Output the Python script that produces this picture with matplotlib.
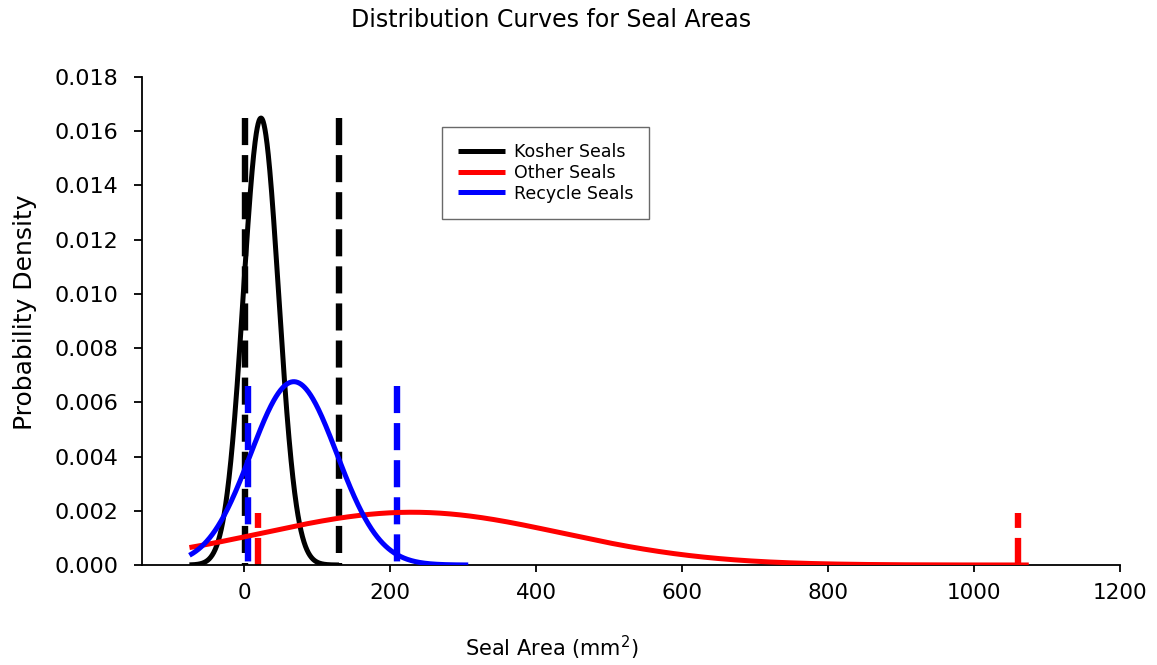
import numpy as np
import matplotlib
matplotlib.use("Agg")
import matplotlib.pyplot as plt
from matplotlib.ticker import FormatStrFormatter

# ---- data ----
series_names = ["Kosher Seals", "Other Seals", "Recycle Seals"]
series_colors = ["#000000", "#ff0000", "#0000ff"]
curve_means = [23.0, 230.0, 68.0]          # mm^2
curve_sds = [24.2, 205.0, 59.0]            # mm^2
curve_start = [-75.0, -75.0, -75.0]
curve_end = [130.0, 1075.0, 307.0]
range_low = [1.5, 19.0, 5.5]               # dashed markers (min)
range_high = [130.0, 1060.0, 209.6]        # dashed markers (max)
marker_heights = [0.0165, 0.0019, 0.0066]

x_ticks = [0, 200, 400, 600, 800, 1000, 1200]
y_ticks = [0.000, 0.002, 0.004, 0.006, 0.008, 0.010, 0.012, 0.014, 0.016, 0.018]

# style: whether the dash pattern starts at the top of the marker line
dash_from_top = [True, False, True]

plt.rcParams["font.family"] = ["DejaVu Sans"]
plt.rcParams["lines.scale_dashes"] = False

fig = plt.figure(figsize=(11.57, 6.65), dpi=100)
ax = fig.add_axes([142 / 1157, 1 - 565 / 665, (1120 - 142) / 1157, (565 - 77) / 665])

handles = []
for name, col, mu, sd, a, b in zip(series_names, series_colors, curve_means,
                                   curve_sds, curve_start, curve_end):
    xs = np.linspace(a, b, 500)
    ys = np.exp(-0.5 * ((xs - mu) / sd) ** 2) / (sd * np.sqrt(2 * np.pi))
    ln, = ax.plot(xs, ys, color=col, lw=3.6, solid_capstyle="butt", zorder=3)
    handles.append(ln)

for col, lo, hi, h, top in zip(series_colors, range_low, range_high,
                               marker_heights, dash_from_top):
    yy = [h, 0] if top else [0, h]
    for xv in (lo, hi):
        ax.plot([xv, xv], yy, color=col, lw=4.6, dashes=(19.5, 7.2), zorder=2)

ax.set_xlim(-140, 1200)
ax.set_ylim(0, 0.018)
ax.set_xticks(x_ticks)
ax.set_yticks(y_ticks)
ax.yaxis.set_major_formatter(FormatStrFormatter("%.3f"))

for s in ("top", "right"):
    ax.spines[s].set_visible(False)
for s in ("left", "bottom"):
    ax.spines[s].set_linewidth(1.3)
ax.tick_params(axis="x", direction="out", length=5.2, width=1.3,
               labelsize=15.5, pad=8)
ax.tick_params(axis="y", direction="out", length=5.8, width=1.3,
               labelsize=16, pad=11)

ax.set_xlabel(r"Seal Area (mm$^2$)", fontsize=15)
ax.xaxis.set_label_coords((552 - 142) / 978, (565 - 634) / 488)
ax.set_ylabel("Probability Density", fontsize=18)
ax.yaxis.set_label_coords((37 - 142) / 978, (565 - 312) / 488)
fig.text(551 / 1157, 1 - 20 / 665, "Distribution Curves for Seal Areas",
         fontsize=17, ha="center", va="center")

leg = ax.legend(handles, series_names, loc="upper left",
                bbox_to_anchor=(442 / 1157, 1 - 127 / 665),
                bbox_transform=fig.transFigure, borderaxespad=0,
                fontsize=12.5, frameon=True, fancybox=False,
                handlelength=2.7, handletextpad=0.5, labelspacing=0.16,
                borderpad=0.92)
leg.get_frame().set_edgecolor("#444444")
leg.get_frame().set_linewidth(1.0)
for lh in leg.get_lines():
    lh.set_linewidth(3.6)

fig.savefig("out.png", dpi=100)
